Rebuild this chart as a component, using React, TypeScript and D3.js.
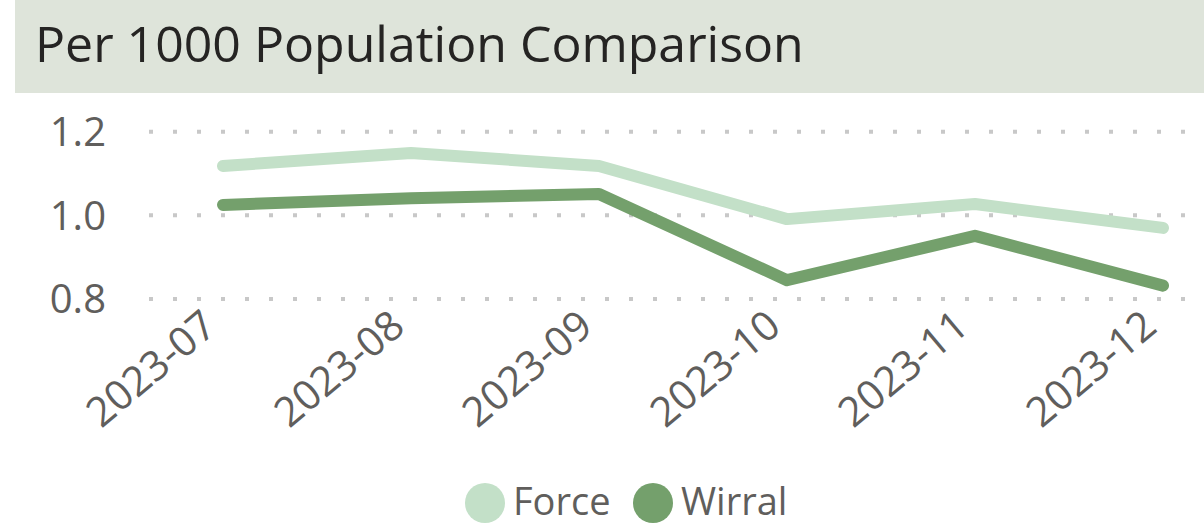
import React, { useEffect, useRef } from 'react';
import * as d3 from 'd3';

const months = ['2023-07', '2023-08', '2023-09', '2023-10', '2023-11', '2023-12'];
const forceValues = [1.118, 1.149, 1.118, 0.991, 1.027, 0.970];
const wirralValues = [1.025, 1.041, 1.051, 0.845, 0.951, 0.832];
const yTicks = [0.8, 1.0, 1.2];

const series = [
  { name: 'Force', values: forceValues, color: '#c3e0c8' },
  { name: 'Wirral', values: wirralValues, color: '#74a06c' },
];

const App = () => {
  const ref = useRef<SVGSVGElement>(null);

  useEffect(() => {
    const svg = d3.select(ref.current);
    svg.selectAll('*').remove();

    const width = 1204;
    const font = "'Open Sans', 'Noto Sans', sans-serif";

    // title bar
    svg.append('rect')
      .attr('x', 15).attr('y', 0)
      .attr('width', width - 15).attr('height', 93)
      .attr('fill', '#dee4da');
    svg.append('text')
      .attr('x', 35).attr('y', 62)
      .attr('font-family', font)
      .attr('font-size', 50)
      .attr('fill', '#252423')
      .text('Per 1000 Population Comparison');

    const x = d3.scalePoint<string>().domain(months).range([223, 1163]);
    const y = d3.scaleLinear().domain([0.8, 1.2]).range([299, 131.7]);

    // gridlines + y labels
    const grid = svg.append('g');
    yTicks.forEach(t => {
      grid.append('line')
        .attr('x1', 149).attr('x2', width)
        .attr('y1', y(t)).attr('y2', y(t))
        .attr('stroke', '#c8c8c8')
        .attr('stroke-width', 4)
        .attr('stroke-dasharray', '4 20');
      grid.append('text')
        .attr('x', 106).attr('y', y(t))
        .attr('dy', '0.36em')
        .attr('text-anchor', 'end')
        .attr('font-family', font)
        .attr('font-size', 40)
        .attr('fill', '#605e5c')
        .text(d3.format('.1f')(t));
    });

    // x labels
    svg.append('g').selectAll('text')
      .data(months)
      .enter()
      .append('text')
        .attr('transform', d => `translate(${x(d)! - 4},${330}) rotate(-40)`)
        .attr('text-anchor', 'end')
        .attr('font-family', font)
        .attr('font-size', 41)
        .attr('fill', '#605e5c')
        .text(d => d);

    // lines
    const line = d3.line<number>()
      .x((_, i) => x(months[i])!)
      .y(v => y(v));

    series.forEach(s => {
      svg.append('path')
        .datum(s.values)
        .attr('d', line)
        .attr('fill', 'none')
        .attr('stroke', s.color)
        .attr('stroke-width', 12)
        .attr('stroke-linecap', 'round')
        .attr('stroke-linejoin', 'round');
    });

    // legend
    const legendX = [485, 653];
    series.forEach((s, i) => {
      svg.append('circle')
        .attr('cx', legendX[i]).attr('cy', 503)
        .attr('r', 20)
        .attr('fill', s.color);
      svg.append('text')
        .attr('x', legendX[i] + 28).attr('y', 515)
        .attr('font-family', font)
        .attr('font-size', 38)
        .attr('fill', '#605e5c')
        .text(s.name);
    });
  }, []);

  return (
    <svg ref={ref} width={1204} height={526}
      style={{ position: 'absolute', left: 0, top: 0, background: '#fff' }} />
  );
};

export default App;
